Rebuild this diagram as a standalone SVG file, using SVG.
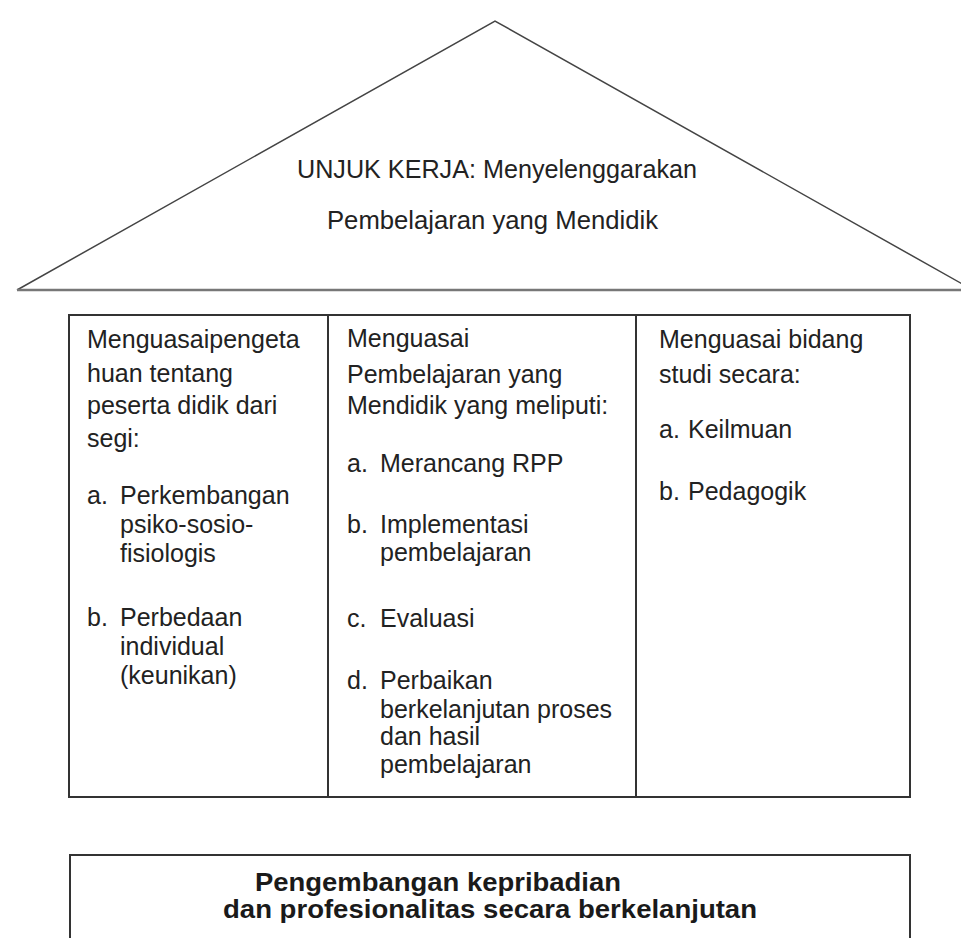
<svg xmlns="http://www.w3.org/2000/svg" width="961" height="938" viewBox="0 0 961 938">
  <style>
    .t { font-family: "Liberation Sans", Arial, sans-serif; font-size: 25px; fill: #222; }
    .b { font-family: "Liberation Sans", Arial, sans-serif; font-size: 25px; font-weight: bold; fill: #1a1a1a; }
    .ln { fill: none; stroke: #333; stroke-width: 2; }
    .roof { fill: none; stroke: #444; stroke-width: 1.5; }
  </style>
  <rect width="961" height="938" fill="#fff"/>

  <g id="roof">
    <polyline class="roof" points="17,290 495,21 973,290"/>
    <line x1="17" y1="290" x2="961" y2="290" stroke="#777" stroke-width="2.5"/>
    <text class="t" x="297" y="178" textLength="400" lengthAdjust="spacingAndGlyphs">UNJUK KERJA: Menyelenggarakan</text>
    <text class="t" x="327" y="229" textLength="331" lengthAdjust="spacingAndGlyphs">Pembelajaran yang Mendidik</text>
  </g>

  <g id="table">
    <rect class="ln" x="69" y="315" width="841" height="482"/>
    <line class="ln" x1="328" y1="315" x2="328" y2="797"/>
    <line class="ln" x1="636" y1="315" x2="636" y2="797"/>
  </g>

  <g id="col-left">
    <text class="t" x="87" y="348">Menguasaipengeta</text>
    <text class="t" x="87" y="382">huan tentang</text>
    <text class="t" x="87" y="414">peserta didik dari</text>
    <text class="t" x="87" y="447">segi:</text>
    <text class="t" x="87" y="504">a.</text>
    <text class="t" x="120" y="504">Perkembangan</text>
    <text class="t" x="120" y="533">psiko-sosio-</text>
    <text class="t" x="120" y="562">fisiologis</text>
    <text class="t" x="87" y="626">b.</text>
    <text class="t" x="120" y="626">Perbedaan</text>
    <text class="t" x="120" y="655">individual</text>
    <text class="t" x="120" y="684">(keunikan)</text>
  </g>

  <g id="col-middle">
    <text class="t" x="347" y="347">Menguasai</text>
    <text class="t" x="347" y="383">Pembelajaran yang</text>
    <text class="t" x="347" y="414">Mendidik yang meliputi:</text>
    <text class="t" x="347" y="472">a.</text>
    <text class="t" x="380" y="472">Merancang RPP</text>
    <text class="t" x="347" y="533">b.</text>
    <text class="t" x="380" y="533">Implementasi</text>
    <text class="t" x="380" y="561">pembelajaran</text>
    <text class="t" x="347" y="627">c.</text>
    <text class="t" x="380" y="627">Evaluasi</text>
    <text class="t" x="347" y="689">d.</text>
    <text class="t" x="380" y="689">Perbaikan</text>
    <text class="t" x="380" y="718">berkelanjutan proses</text>
    <text class="t" x="380" y="745">dan hasil</text>
    <text class="t" x="380" y="773">pembelajaran</text>
  </g>

  <g id="col-right">
    <text class="t" x="659" y="348">Menguasai bidang</text>
    <text class="t" x="659" y="383">studi secara:</text>
    <text class="t" x="659" y="438">a.</text>
    <text class="t" x="688" y="438">Keilmuan</text>
    <text class="t" x="659" y="500">b.</text>
    <text class="t" x="688" y="500">Pedagogik</text>
  </g>

  <g id="foundation">
    <rect class="ln" x="70" y="855" width="840" height="100"/>
    <text class="b" x="255" y="891" textLength="366" lengthAdjust="spacingAndGlyphs">Pengembangan kepribadian</text>
    <text class="b" x="223" y="918" textLength="534" lengthAdjust="spacingAndGlyphs">dan profesionalitas secara berkelanjutan</text>
  </g>

  <g id="connectors"></g>
</svg>
